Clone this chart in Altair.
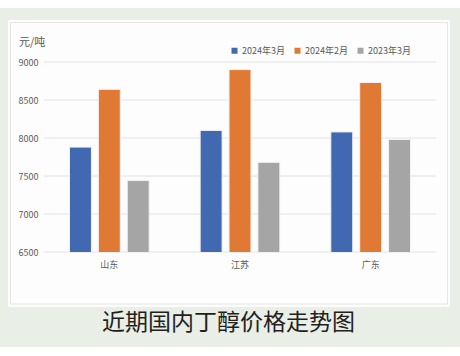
import altair as alt
import pandas as pd

# ---- data ----
categories = ["山东", "江苏", "广东"]
series = ["2024年3月", "2024年2月", "2023年3月"]
values_2024_03 = [7880, 8100, 8080]
values_2024_02 = [8640, 8900, 8730]
values_2023_03 = [7440, 7680, 7980]
y_ticks = [6500, 7000, 7500, 8000, 8500, 9000]
colors = ["#4169b1", "#e07934", "#a5a5a5"]
unit_label = "元/吨"
chart_title = "近期国内丁醇价格走势图"

rows = []
for s, vals in zip(series, [values_2024_03, values_2024_02, values_2023_03]):
    for c, v in zip(categories, vals):
        rows.append({"region": c, "series": s, "value": v})
df = pd.DataFrame(rows)

W, H = 392, 190
FONT = "Noto Sans CJK SC"
one = pd.DataFrame({"a": [0]})
yscale = alt.Scale(domain=[6500, 9000], zero=False, nice=False)

yaxis = alt.Axis(title=None, values=y_ticks, format="d", grid=False, domain=False, ticks=False,
                 labelPadding=6, labelFontSize=9, labelColor="#595959",
                 labelFont=FONT, zindex=1)

green = alt.Chart(one).mark_rect(color="#e9eee7").encode(
    x=alt.value(-44), x2=alt.value(416), y=alt.value(-54), y2=alt.value(285))
panel = alt.Chart(one).mark_rect(color="#fdfdfd").encode(
    x=alt.value(-36), x2=alt.value(406), y=alt.value(-42), y2=alt.value(245))
border = alt.Chart(one).mark_rect(fillOpacity=0, stroke="#e6e6e6", strokeWidth=1).encode(
    x=alt.value(-33.5), x2=alt.value(403.5), y=alt.value(-39.5), y2=alt.value(242))

grid = alt.Chart(pd.DataFrame({"v": y_ticks})).mark_rule(color="#e2e2e2", strokeWidth=1).encode(
    y=alt.Y("v:Q", scale=yscale, axis=yaxis),
    x=alt.value(0), x2=alt.value(W))

bars = alt.Chart(df).mark_bar(stroke="#f2f2f2", strokeWidth=1, clip=True).encode(
    x=alt.X("region:N", sort=categories,
            scale=alt.Scale(paddingInner=0.39, paddingOuter=0.195),
            axis=alt.Axis(title=None, labelAngle=0, domain=False, ticks=False,
                          labelPadding=8, labelFontSize=9, labelColor="#595959",
                          labelFont=FONT, zindex=1)),
    xOffset=alt.XOffset("series:N", sort=series, scale=alt.Scale(paddingInner=0.24)),
    y=alt.Y("value:Q", scale=yscale, axis=yaxis),
    color=alt.Color("series:N", sort=series,
                    scale=alt.Scale(domain=series, range=colors),
                    legend=alt.Legend(title=None, orient="none", legendX=186, legendY=-16,
                                      direction="horizontal", symbolType="square",
                                      symbolSize=36, symbolStrokeWidth=0,
                                      labelFontSize=9, labelColor="#595959", labelFont=FONT,
                                      columnPadding=8, labelOffset=3)),
)

unit = alt.Chart(one).mark_text(align="left", baseline="middle", fontSize=11,
                                color="#595959", font=FONT).encode(
    x=alt.value(-25), y=alt.value(-19), text=alt.value(unit_label))

title = alt.Chart(one).mark_text(align="center", baseline="middle", fontSize=23,
                                 color="#231f20", font=FONT).encode(
    x=alt.value(184.5), y=alt.value(261), text=alt.value(chart_title))

chart = alt.layer(green, panel, border, grid, bars, unit, title).properties(
    width=W, height=H,
    padding={"left": 44, "top": 62, "right": 24, "bottom": 104},
    autosize=alt.AutoSizeParams(type="none"),
    background="white",
).configure(font=FONT).configure_view(stroke=None)

chart.save("out.html", embed_options={"renderer": "svg", "actions": False})
